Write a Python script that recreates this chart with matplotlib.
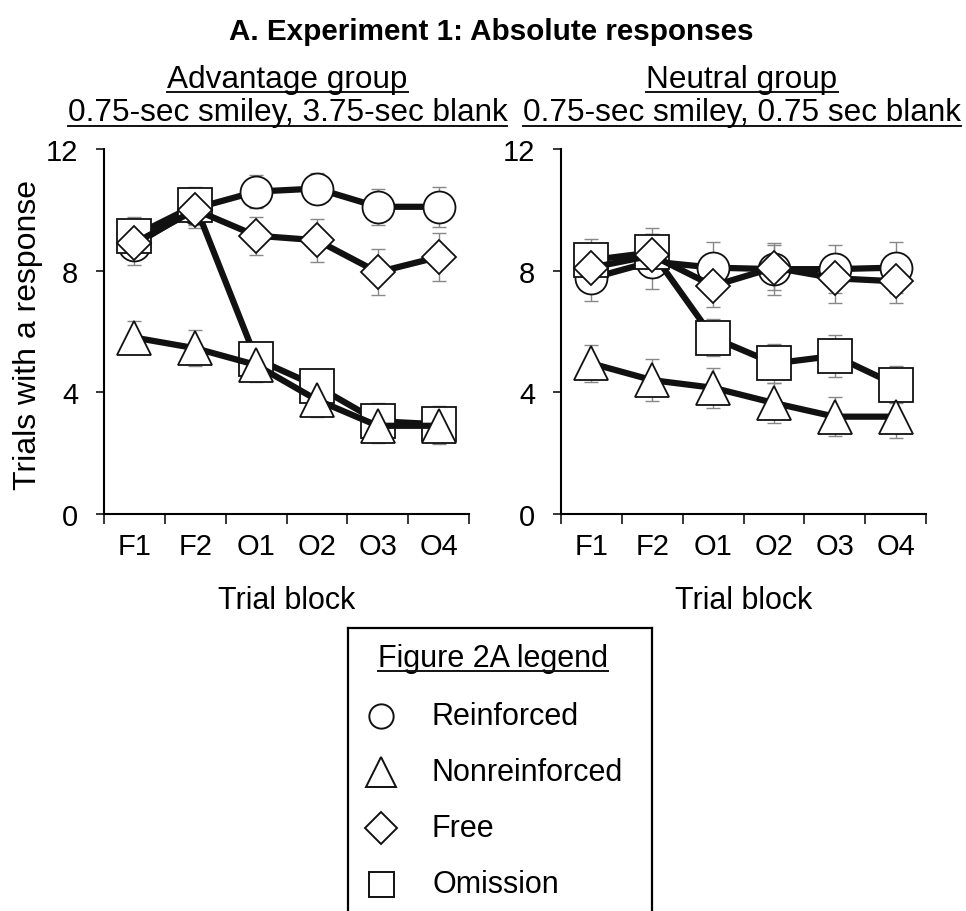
import matplotlib
matplotlib.use("Agg")
import matplotlib.pyplot as plt
from matplotlib.lines import Line2D

plt.rcParams['font.family'] = ['Liberation Sans', 'DejaVu Sans']

W, H = 966, 912

blocks = ['F1', 'F2', 'O1', 'O2', 'O3', 'O4']
series = ['Reinforced', 'Omission', 'Nonreinforced', 'Free']  # drawing order

# Advantage group (left panel)
adv_reinforced = [8.85, 10.05, 10.6, 10.7, 10.1, 10.1]
adv_reinforced_se = [0.65, 0.55, 0.55, 0.5, 0.6, 0.65]
adv_nonreinforced = [5.8, 5.45, 4.9, 3.75, 2.9, 2.9]
adv_nonreinforced_se = [0.55, 0.6, 0.55, 0.55, 0.55, 0.6]
adv_free = [8.9, 10.0, 9.15, 9.0, 7.95, 8.45]
adv_free_se = [0.5, 0.6, 0.62, 0.7, 0.75, 0.8]
adv_omission = [9.15, 10.15, 5.1, 4.2, 3.05, 2.95]
adv_omission_se = [0.6, 0.6, 0.55, 0.5, 0.6, 0.6]

# Neutral group (right panel)
neu_reinforced = [7.75, 8.3, 8.1, 8.05, 8.05, 8.1]
neu_reinforced_se = [0.75, 0.9, 0.85, 0.85, 0.8, 0.85]
neu_nonreinforced = [4.95, 4.4, 4.15, 3.65, 3.2, 3.2]
neu_nonreinforced_se = [0.6, 0.7, 0.65, 0.65, 0.65, 0.7]
neu_free = [8.1, 8.5, 7.5, 8.1, 7.75, 7.65]
neu_free_se = [0.6, 0.7, 0.7, 0.75, 0.8, 0.7]
neu_omission = [8.35, 8.6, 5.8, 4.95, 5.2, 4.25]
neu_omission_se = [0.7, 0.8, 0.6, 0.65, 0.7, 0.6]

markers = {'Reinforced': ('o', 23), 'Nonreinforced': ('^', 25),
           'Free': ('D', 17), 'Omission': ('s', 24)}
legend_ms = {'Reinforced': 17.5, 'Nonreinforced': 21, 'Free': 16, 'Omission': 18}

panels = [
    (dict(Reinforced=(adv_reinforced, adv_reinforced_se),
          Nonreinforced=(adv_nonreinforced, adv_nonreinforced_se),
          Free=(adv_free, adv_free_se),
          Omission=(adv_omission, adv_omission_se)), 104),
    (dict(Reinforced=(neu_reinforced, neu_reinforced_se),
          Nonreinforced=(neu_nonreinforced, neu_nonreinforced_se),
          Free=(neu_free, neu_free_se),
          Omission=(neu_omission, neu_omission_se)), 561),
]

fig = plt.figure(figsize=(W / 100, H / 100), dpi=100)
x = [i + 0.5 for i in range(len(blocks))]

for data, left_px in panels:
    ax = fig.add_axes([left_px / W, (H - 515) / H, 365 / W, 365 / H])
    for name in series:
        vals, se = data[name]
        ax.errorbar(x, vals, yerr=se, fmt='none', ecolor='#888888',
                    elinewidth=1.0, capsize=5, capthick=1.0, zorder=1)
    for k, name in enumerate(series):
        vals, se = data[name]
        m, ms = markers[name]
        ax.plot(x, vals, color='#111111', lw=4.5, marker=m, ms=ms,
                mfc='white', mec='#111111', mew=1.3, zorder=2 + k,
                solid_joinstyle='round', clip_on=False)
    ax.set_xlim(0, 6)
    ax.set_ylim(0, 12)
    ax.set_yticks([0, 4, 8, 12])
    ax.set_xticks(range(7))
    ax.set_xticklabels([])
    ax.set_xticks(x, minor=True)
    ax.set_xticklabels(blocks, minor=True)
    ax.tick_params(axis='x', which='major', direction='out', length=7, width=1.1)
    ax.tick_params(axis='x', which='minor', length=0, pad=13, labelsize=21)
    ax.tick_params(axis='y', direction='out', length=6, width=1.1, pad=12.5,
                   labelsize=21)
    for s in ['top', 'right']:
        ax.spines[s].set_visible(False)
    for s in ['left', 'bottom']:
        ax.spines[s].set_linewidth(1.5)
    ax.set_xlabel('Trial block', fontsize=22)
    ax.xaxis.set_label_coords(0.5, -0.195)

fig.text(28 / W, 1 - 335 / H, 'Trials with a response', rotation=90,
         ha='center', va='center', fontsize=23)

fig.text(491 / W, 1 - 40 / H, 'A. Experiment 1: Absolute responses',
         ha='center', va='baseline', fontsize=21.3, fontweight='bold')

underlined = []
for cx, l1, l2 in [(287.5, 'Advantage group', '0.75-sec smiley, 3.75-sec blank'),
                   (742, 'Neutral group', '0.75-sec smiley, 0.75 sec blank')]:
    t1 = fig.text(cx / W, 1 - 88 / H, l1, ha='center', va='baseline', fontsize=22.7)
    t2 = fig.text(cx / W, 1 - 121 / H, l2, ha='center', va='baseline', fontsize=22.7)
    underlined += [(t1, 93), (t2, 127)]

# legend box
lx0, ly0 = 348, 629
lax = fig.add_axes([lx0 / W, (H - 935) / H, 304 / W, (935 - ly0) / H])
lax.set_xlim(0, 304)
lax.set_ylim(935 - ly0, 0)
lax.set_xticks([])
lax.set_yticks([])
lax.spines['bottom'].set_visible(False)
for s in ['top', 'left', 'right']:
    lax.spines[s].set_linewidth(1.6)
tl = lax.text(145, 38, 'Figure 2A legend', ha='center', va='baseline', fontsize=22)
underlined.append((tl, 672))
legend_rows = ['Reinforced', 'Nonreinforced', 'Free', 'Omission']
for i, name in enumerate(legend_rows):
    yy = 88 + i * 56
    m, _ = markers[name]
    lax.plot([33], [yy], marker=m, ms=legend_ms[name], mfc='white',
             mec='#111111', mew=1.4, ls='none')
    lax.text(84, yy, name, ha='left', va='center', fontsize=22)

fig.canvas.draw()
r = fig.canvas.get_renderer()
for t, ypx in underlined:
    bb = t.get_window_extent(r)
    fig.add_artist(Line2D([bb.x0 / W, bb.x1 / W], [1 - ypx / H, 1 - ypx / H],
                          transform=fig.transFigure, color='#111111', lw=1.4))

fig.savefig('out.png', dpi=100)
